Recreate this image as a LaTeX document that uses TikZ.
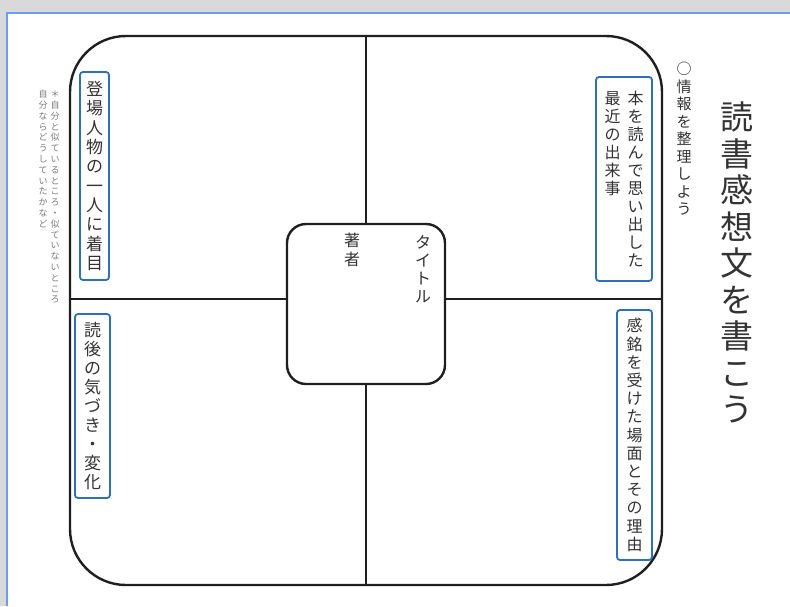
\documentclass[tikz,border=0pt]{standalone}
\usepackage{fontspec}
\setmainfont{Noto Sans CJK JP}
\definecolor{bggray}{HTML}{D9D9D9}
\definecolor{pageblue}{HTML}{6A9BFF}
\definecolor{boxblue}{HTML}{2F6FB5}
\definecolor{txt}{HTML}{333333}
\definecolor{notec}{HTML}{7A7A7A}
\def\vtA#1#2\vtend{\hbox to 1em{\hss#1\hss}\ifx\relax#2\relax\expandafter\vtstop\else\expandafter\vtA\fi#2\vtend}
\def\vtstop\vtend{}
\newcommand\vcol[1]{\vtop{\lineskiplimit=-\maxdimen\lineskip=0pt\relax\vtA#1\vtend}}
\begin{document}
\begin{tikzpicture}[x=1pt,y=-1pt,
  frame/.style={draw=black!88,line width=2.4pt},
  qbox/.style={draw=boxblue,line width=1.8pt,rounded corners=3pt,fill=white,inner sep=0pt,text=txt},
  vtxt/.style={text=txt,inner sep=0pt,anchor=north},
]
\useasboundingbox (0,0) rectangle (790,606);
\fill[bggray] (0,0) rectangle (790,606);
\fill[white] (7,13) rectangle (790,606);
\draw[pageblue,line width=2.5pt] (7,606) -- (7,13) -- (790,13);

% outer frame and centre box
\node[frame,rounded corners=56pt,minimum width=592pt,minimum height=549pt] (big) at (366,310.5) {};
\node[frame,rounded corners=19pt,minimum width=158pt,minimum height=160pt] (cbox) at (366,304) {};
\coordinate (hy) at (0,299);
\draw[frame] (big.north) -- (cbox.north);
\draw[frame] (cbox.south) -- (big.south);
\draw[frame] (big.west |- hy) -- (cbox.west |- hy);
\draw[frame] (cbox.east |- hy) -- (big.east |- hy);

% titles
\node[vtxt,font=\fontsize{33pt}{36.5pt}\selectfont,text=black!80] (title) at (737,102) {\vcol{読書感想文を書こう}};
\node[vtxt,font=\fontsize{15pt}{17.5pt}\selectfont] (sub) at (684,62) {\vcol{○情報を整理しよう}};

% blue boxes
\node[qbox,minimum width=56pt,minimum height=204pt,font=\fontsize{16pt}{18pt}\selectfont] (b1) at (624,179)
  {\vcol{最近の出来事}\hspace{7pt}\vcol{本を読んで思い出した}};
\node[qbox,minimum width=35pt,minimum height=250pt,font=\fontsize{16pt}{18.2pt}\selectfont] (b2) at (634.5,435)
  {\vcol{感銘を受けた場面とその理由}};
\node[qbox,minimum width=29pt,minimum height=208pt,font=\fontsize{17pt}{19.3pt}\selectfont] (b3) at (94.5,176)
  {\vcol{登場人物の一人に着目}};
\node[qbox,minimum width=35pt,minimum height=184pt,font=\fontsize{17pt}{19pt}\selectfont] (b4) at (92.5,406)
  {\vcol{読後の気づき・変化}};

% note
\node[vtxt,text=notec,font=\fontsize{9pt}{10.8pt}\selectfont] (note) at (49,90)
  {\vcol{自分ならどうしていたかなど}\hspace{3pt}\vcol{＊自分と似ているところ・似ていないところ}};

% centre labels
\node[vtxt,font=\fontsize{16pt}{18pt}\selectfont] (ttl) at (423,235) {\vcol{タイトル}};
\node[vtxt,font=\fontsize{16pt}{19pt}\selectfont] (auth) at (352,233) {\vcol{著者}};
\end{tikzpicture}
\end{document}
